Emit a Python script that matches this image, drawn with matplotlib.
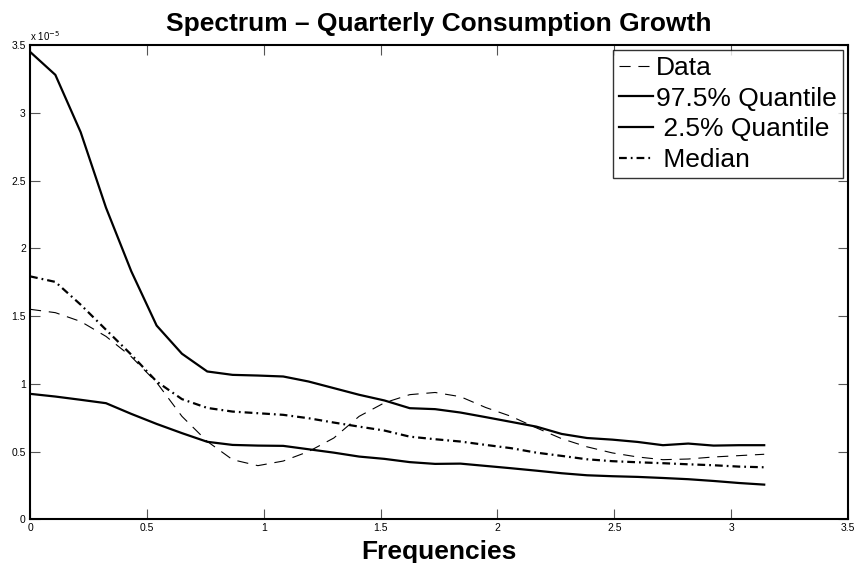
import numpy as np
import matplotlib
matplotlib.use("Agg")
import matplotlib.pyplot as plt
from matplotlib.ticker import FuncFormatter

plt.rcParams['font.family'] = ['Liberation Sans', 'DejaVu Sans']

# Frequency grid (30 Fourier frequencies on [0, pi])
freqs = np.linspace(0, np.pi, 30)

# Spectral estimates, in units of 1e-5
data = [1.55, 1.525, 1.46, 1.35, 1.20, 1.01, 0.76, 0.575, 0.44, 0.396,
        0.43, 0.50, 0.60, 0.76, 0.86, 0.92, 0.936, 0.905, 0.825, 0.76,
        0.675, 0.595, 0.535, 0.49, 0.46, 0.44, 0.445, 0.46, 0.47, 0.48]
q975 = [3.45, 3.28, 2.857, 2.30, 1.83, 1.43, 1.222, 1.091, 1.066, 1.061,
        1.054, 1.017, 0.968, 0.919, 0.877, 0.820, 0.813, 0.788, 0.754, 0.719,
        0.684, 0.630, 0.600, 0.588, 0.571, 0.547, 0.559, 0.544, 0.547, 0.547]
q025 = [0.926, 0.906, 0.882, 0.857, 0.778, 0.704, 0.636, 0.572, 0.549, 0.544,
        0.542, 0.517, 0.492, 0.463, 0.446, 0.422, 0.409, 0.411, 0.394, 0.377,
        0.359, 0.340, 0.325, 0.318, 0.313, 0.305, 0.296, 0.283, 0.268, 0.256]
median = [1.793, 1.752, 1.584, 1.399, 1.215, 1.017, 0.887, 0.822, 0.795, 0.783,
          0.771, 0.746, 0.714, 0.684, 0.655, 0.610, 0.591, 0.574, 0.549, 0.525,
          0.492, 0.468, 0.443, 0.429, 0.421, 0.414, 0.406, 0.399, 0.389, 0.384]

scale = 1e-5
tick_vals = [0, 0.5, 1, 1.5, 2, 2.5, 3, 3.5]

fig = plt.figure(figsize=(8.58, 5.63), dpi=100)
ax = fig.add_axes([0.035, 0.0776, 0.9533, 0.8424])

ax.plot(freqs, np.array(data) * scale, color='black', lw=0.8,
        ls=(0, (10, 7)), label='Data')
ax.plot(freqs, np.array(q975) * scale, color='black', lw=1.6, ls='-',
        label='97.5% Quantile')
ax.plot(freqs, np.array(q025) * scale, color='black', lw=1.6, ls='-',
        label=' 2.5% Quantile')
ax.plot(freqs, np.array(median) * scale, color='black', lw=1.6,
        ls=(0, (3.5, 1.8, 0.8, 1.8)), label=' Median')

ax.set_xlim(0, 3.5)
ax.set_ylim(0, 3.5 * scale)
ax.set_xticks(tick_vals)
ax.set_yticks([v * scale for v in tick_vals])
ax.xaxis.set_major_formatter(FuncFormatter(lambda v, p: f'{v:g}'))
ax.yaxis.set_major_formatter(FuncFormatter(lambda v, p: f'{v / scale:g}'))
ax.tick_params(direction='in', length=7, width=0.8, color='#555555',
               labelsize=7.5, top=True, right=True, pad=3)
for s in ax.spines.values():
    s.set_linewidth(1.5)

ax.text(0.0, 1.005, r'x 10$^{-5}$', transform=ax.transAxes, fontsize=7,
        ha='left', va='bottom')

ax.set_title('Spectrum \u2013 Quarterly Consumption Growth', fontsize=19,
             fontweight='bold', pad=10)
ax.set_xlabel('Frequencies', fontsize=19, fontweight='bold', labelpad=4.5)

leg = ax.legend(loc='upper right', fontsize=19, frameon=True, fancybox=False,
                edgecolor='black', handlelength=1.3, handletextpad=0.1,
                borderaxespad=0.2, borderpad=0.22, labelspacing=0.25)
leg.get_frame().set_linewidth(1.0)

fig.savefig('out.png', dpi=100)
